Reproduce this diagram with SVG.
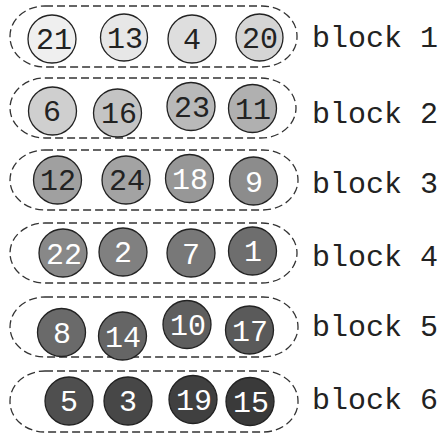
<svg xmlns="http://www.w3.org/2000/svg" width="439" height="433" viewBox="0 0 439 433">
<style>
.blk{fill:none;stroke:#333;stroke-width:1.3;stroke-dasharray:8 4}
.c{stroke:#222;stroke-width:1.3}
.n{font-family:"Liberation Mono","Courier New",monospace;font-size:30px;text-anchor:middle}
.d{fill:#222}
.w{fill:#fff}
.lbl{font-family:"Liberation Mono","Courier New",monospace;font-size:30px;fill:#222}
</style>
<rect width="439" height="433" fill="#fff"/>
<g id="block1">
<rect class="blk" x="10" y="6" width="287" height="61" rx="35" ry="30"/>
<text class="lbl" x="312" y="47">block 1</text>
</g>
<g id="block2">
<rect class="blk" x="10" y="78" width="286" height="60" rx="35" ry="30"/>
<text class="lbl" x="312" y="123">block 2</text>
</g>
<g id="block3">
<rect class="blk" x="10" y="150" width="288" height="60" rx="35" ry="30"/>
<text class="lbl" x="312" y="193">block 3</text>
</g>
<g id="block4">
<rect class="blk" x="10" y="223" width="287" height="60" rx="35" ry="30"/>
<text class="lbl" x="312" y="266">block 4</text>
</g>
<g id="block5">
<rect class="blk" x="10" y="297" width="288" height="60" rx="35" ry="30"/>
<text class="lbl" x="312" y="336">block 5</text>
</g>
<g id="block6">
<rect class="blk" x="10" y="371" width="288" height="61" rx="35" ry="30"/>
<text class="lbl" x="312" y="409">block 6</text>
</g>
<g id="n21"><circle class="c" cx="52" cy="39" r="24" fill="#efefef"/><text class="n d" x="54" y="49">21</text></g>
<g id="n13"><circle class="c" cx="124" cy="37.5" r="23.5" fill="#e7e7e7"/><text class="n d" x="125" y="48">13</text></g>
<g id="n4"><circle class="c" cx="192" cy="39" r="24" fill="#dedede"/><text class="n d" x="192" y="49">4</text></g>
<g id="n20"><circle class="c" cx="259.5" cy="37.5" r="23.5" fill="#d5d5d5"/><text class="n d" x="260" y="48">20</text></g>

<g id="n6"><circle class="c" cx="52.5" cy="111" r="24" fill="#cfcfcf"/><text class="n d" x="52" y="121">6</text></g>
<g id="n16"><circle class="c" cx="117.5" cy="113" r="24" fill="#c4c4c4"/><text class="n d" x="119" y="123">16</text></g>
<g id="n23"><circle class="c" cx="191" cy="106.5" r="24" fill="#b9b9b9"/><text class="n d" x="192" y="117">23</text></g>
<g id="n11"><circle class="c" cx="252.5" cy="108.5" r="24" fill="#b0b0b0"/><text class="n d" x="253" y="119">11</text></g>

<g id="n12"><circle class="c" cx="57.5" cy="180" r="24" fill="#a0a0a0"/><text class="n d" x="58" y="190">12</text></g>
<g id="n24"><circle class="c" cx="126" cy="180" r="24" fill="#a3a3a3"/><text class="n d" x="127" y="190">24</text></g>
<g id="n18"><circle class="c" cx="189.5" cy="178.5" r="24" fill="#979797"/><text class="n w" x="190" y="189">18</text></g>
<g id="n9"><circle class="c" cx="253.5" cy="181" r="24" fill="#8c8c8c"/><text class="n w" x="254" y="192">9</text></g>

<g id="n22"><circle class="c" cx="63" cy="253" r="24" fill="#888888"/><text class="n w" x="64" y="264">22</text></g>
<g id="n2"><circle class="c" cx="123" cy="252" r="24" fill="#808080"/><text class="n w" x="123" y="262">2</text></g>
<g id="n7"><circle class="c" cx="191" cy="253" r="24" fill="#787878"/><text class="n w" x="191" y="264">7</text></g>
<g id="n1"><circle class="c" cx="252.5" cy="251" r="24" fill="#6e6e6e"/><text class="n w" x="253" y="261">1</text></g>

<g id="n8"><circle class="c" cx="61.5" cy="332.5" r="24" fill="#6a6a6a"/><text class="n w" x="62" y="343">8</text></g>
<g id="n14"><circle class="c" cx="122.5" cy="336" r="24" fill="#656565"/><text class="n w" x="123" y="347">14</text></g>
<g id="n10"><circle class="c" cx="187" cy="324.5" r="24" fill="#5e5e5e"/><text class="n w" x="188" y="335">10</text></g>
<g id="n17"><circle class="c" cx="249.5" cy="330" r="24" fill="#5a5a5a"/><text class="n w" x="250" y="341">17</text></g>

<g id="n5"><circle class="c" cx="69" cy="401" r="24" fill="#4f4f4f"/><text class="n w" x="69" y="411">5</text></g>
<g id="n3"><circle class="c" cx="128" cy="401" r="24" fill="#474747"/><text class="n w" x="128" y="411">3</text></g>
<g id="n19"><circle class="c" cx="193" cy="399.5" r="24" fill="#404040"/><text class="n w" x="194" y="410">19</text></g>
<g id="n15"><circle class="c" cx="250" cy="401.5" r="24" fill="#3a3a3a"/><text class="n w" x="251" y="412">15</text></g>
<g id="connectors"/>
</svg>
